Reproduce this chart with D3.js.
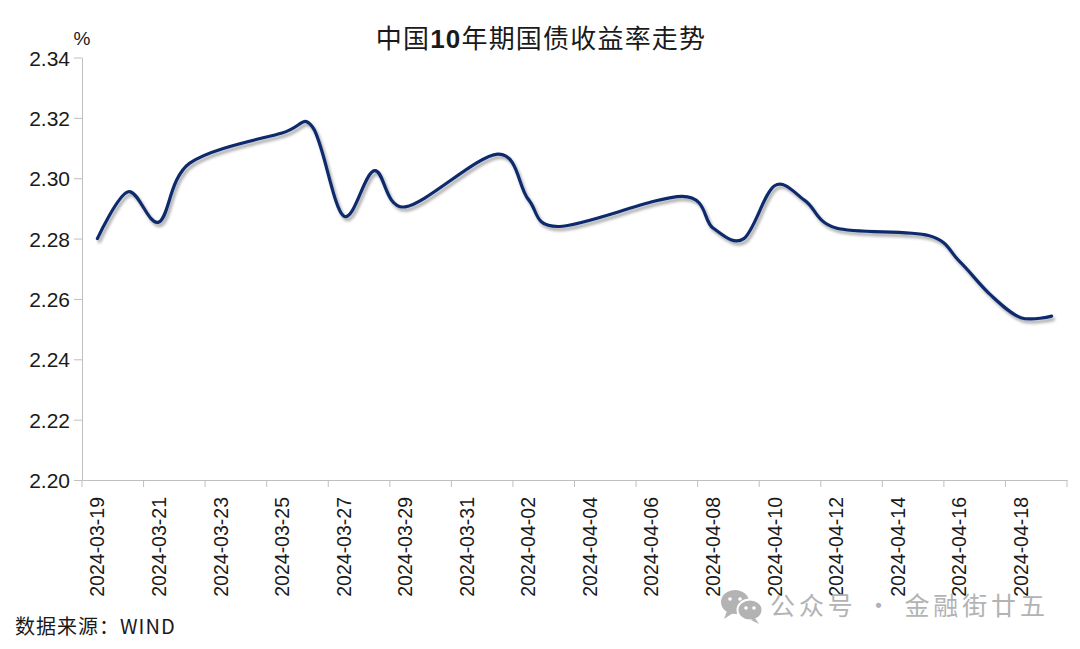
<!DOCTYPE html>
<html>
<head>
<meta charset="utf-8">
<script src="https://cdn.jsdelivr.net/npm/d3@7/dist/d3.min.js"></script>
<style>
  html,body{margin:0;padding:0;background:#fff;}
  svg{display:block;}
</style>
</head>
<body>
<div class="canvas"></div>
<script>
// trading days and 10y yield (%)
const dates=['2024-03-19','2024-03-20','2024-03-21','2024-03-22','2024-03-25','2024-03-26',
  '2024-03-27','2024-03-28','2024-03-29','2024-04-01','2024-04-02','2024-04-03','2024-04-07',
  '2024-04-08','2024-04-09','2024-04-10','2024-04-11','2024-04-12','2024-04-15','2024-04-16',
  '2024-04-17','2024-04-18','2024-04-19'];
const yields=[2.280,2.2955,2.2855,2.305,2.315,2.3168,
  2.2875,2.3025,2.2905,2.308,2.293,2.284,2.294,
  2.2835,2.280,2.2975,2.2925,2.2835,2.281,2.2725,
  2.2615,2.2538,2.2543];

// x tick labels (every other calendar day)
const tickLabels=['2024-03-19','2024-03-21','2024-03-23','2024-03-25','2024-03-27','2024-03-29',
  '2024-03-31','2024-04-02','2024-04-04','2024-04-06','2024-04-08','2024-04-10',
  '2024-04-12','2024-04-14','2024-04-16','2024-04-18'];
const yTicks=[2.20,2.22,2.24,2.26,2.28,2.30,2.32,2.34];

const dims={width:1080,height:649};
const plot={left:82,right:1067,top:57.5,bottom:480};

// every calendar day on the axis
const fmt=d3.timeFormat('%Y-%m-%d');
const allDays=d3.timeDay.range(new Date(2024,2,19),new Date(2024,3,20)).map(fmt);

const svg=d3.select('.canvas')
  .append('svg')
  .attr('width',dims.width)
  .attr('height',dims.height);

// drop shadow for the line
const defs=svg.append('defs');
const f=defs.append('filter').attr('id','shadow')
  .attr('x','-5%').attr('y','-20%').attr('width','110%').attr('height','140%');
f.append('feDropShadow')
  .attr('dx',2).attr('dy',3).attr('stdDeviation',1.6)
  .attr('flood-color','#000').attr('flood-opacity',0.35);

const x=d3.scaleBand()
  .domain(allDays)
  .range([plot.left,plot.right]);

const y=d3.scaleLinear()
  .domain([2.20,2.34])
  .range([plot.bottom,plot.top]);

const axisColour='#bfbfbf';

// y axis
const yAxis=svg.append('g')
  .attr('transform',`translate(${plot.left},0)`)
  .call(d3.axisLeft(y).tickValues(yTicks).tickFormat(d3.format('.2f'))
    .tickSize(8).tickSizeOuter(0).tickPadding(4));
yAxis.select('.domain').attr('stroke',axisColour);
yAxis.selectAll('.tick line').attr('stroke',axisColour);
yAxis.selectAll('text')
  .attr('fill','#1a1a1a')
  .style('font-family','"Liberation Sans",Arial,sans-serif')
  .style('font-size','21px')
  .attr('dy','0.36em');

// x axis: labels at day centres, tick marks every two days
const xAxis=svg.append('g')
  .attr('transform',`translate(0,${plot.bottom})`)
  .call(d3.axisBottom(x).tickValues(tickLabels).tickSize(0).tickSizeOuter(0).tickPadding(0));
xAxis.select('.domain').attr('stroke',axisColour);
xAxis.selectAll('text')
  .attr('fill','#1a1a1a')
  .style('font-family','"Liberation Sans",Arial,sans-serif')
  .style('font-size','19.5px')
  .attr('text-anchor','end')
  .attr('transform','rotate(-90)')
  .attr('x',-17)
  .attr('y',0)
  .attr('dy','0.36em');

const tickPos=tickLabels.map(d=>x(d)).concat([plot.right]);
xAxis.selectAll('.bound')
  .data(tickPos)
  .enter().append('line')
  .attr('class','bound')
  .attr('x1',d=>d).attr('x2',d=>d)
  .attr('y1',0).attr('y2',7)
  .attr('stroke',axisColour);

// line
const line=d3.line()
  .x((d,i)=>x(dates[i])+x.bandwidth()/2)
  .y(d=>y(d))
  .curve(d3.curveCardinal.tension(0));

svg.append('path')
  .datum(yields)
  .attr('d',line)
  .attr('fill','none')
  .attr('stroke','#0f2a6c')
  .attr('stroke-width',3.2)
  .attr('stroke-linejoin','round')
  .attr('stroke-linecap','round')
  .attr('filter','url(#shadow)');

// title
const title=svg.append('text')
  .attr('x',541).attr('y',48)
  .attr('text-anchor','middle')
  .attr('fill','#1a1a1a')
  .style('font-family','"Noto Sans CJK SC","Noto Sans",sans-serif')
  .style('font-size','26px')
  .style('letter-spacing','1.2px');
title.append('tspan').text('中国');
title.append('tspan').style('font-weight','bold').style('font-family','"Liberation Sans",Arial,sans-serif').text('10');
title.append('tspan').text('年期国债收益率走势');

// unit
svg.append('text')
  .attr('x',82).attr('y',45)
  .attr('text-anchor','middle')
  .attr('fill','#1a1a1a')
  .style('font-family','"Liberation Sans",Arial,sans-serif')
  .style('font-size','19px')
  .text('%');

// source
svg.append('text')
  .attr('x',15).attr('y',634)
  .attr('fill','#1a1a1a')
  .style('font-family','"Noto Sans CJK SC","Noto Sans",sans-serif')
  .style('font-size','20px')
  .style('letter-spacing','1px')
  .text('数据来源：WIND');

// watermark
const wm=svg.append('g').attr('fill','#b3b3b3');
wm.append('ellipse').attr('cx',735).attr('cy',602).attr('rx',14).attr('ry',12);
wm.append('path').attr('d','M727,611 L724,619 L733,613 Z');
wm.append('ellipse').attr('cx',750).attr('cy',610).attr('rx',12.5).attr('ry',10.5)
  .attr('stroke','#fff').attr('stroke-width',2);
wm.append('path').attr('d','M755,618 L759,624 L751,620 Z');
[[730,599],[740,599],[746,608],[754,608]].forEach(p=>{
  wm.append('circle').attr('cx',p[0]).attr('cy',p[1]).attr('r',1.8).attr('fill','#fff');
});
svg.append('text')
  .attr('x',770).attr('y',615)
  .attr('fill','#b3b3b3')
  .style('font-family','"Noto Sans CJK SC","Noto Sans",sans-serif')
  .style('font-size','25px')
  .attr('textLength',275)
  .attr('lengthAdjust','spacing')
  .text('公众号 · 金融街廿五');
</script>
</body>
</html>
